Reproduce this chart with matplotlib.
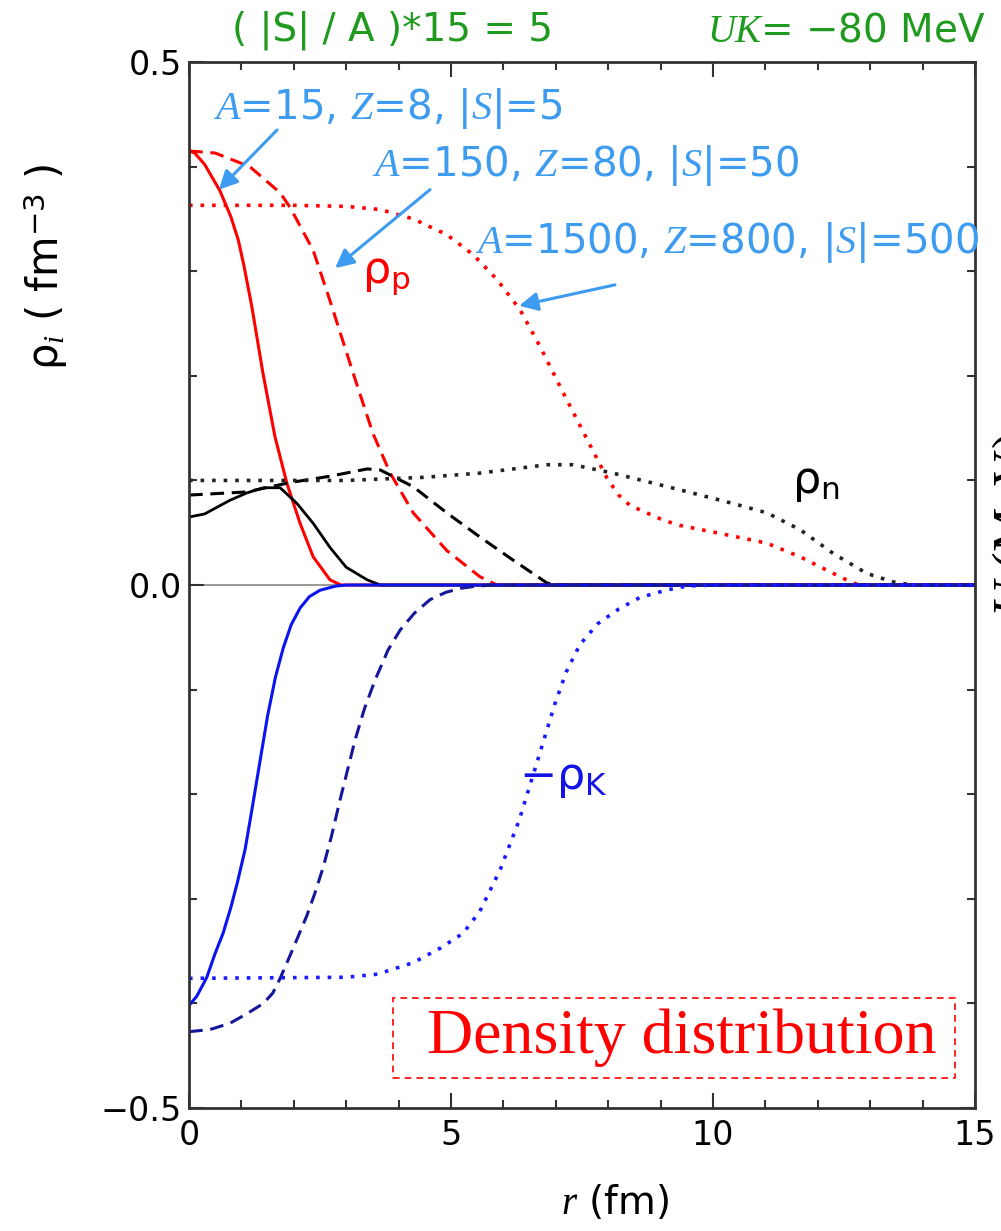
import numpy as np
import matplotlib
matplotlib.use('Agg')
import matplotlib.pyplot as plt
from matplotlib.ticker import MultipleLocator
from matplotlib.patches import Rectangle

plt.rcParams['font.family'] = ['DejaVu Sans']
plt.rcParams['mathtext.fontset'] = 'custom'
plt.rcParams['mathtext.rm'] = 'DejaVu Sans'
plt.rcParams['mathtext.it'] = 'Liberation Serif:italic'
plt.rcParams['axes.unicode_minus'] = True

# proton densities (A=15, 150, 1500)
rp15_r = [0, 0.11, 0.3, 0.59, 0.8, 0.94, 1.05, 1.2, 1.41, 1.64, 1.87, 2.12, 2.37, 2.69,
          2.9, 15]
rp15 = [0.415, 0.413, 0.402, 0.377, 0.352, 0.33, 0.305, 0.266, 0.203, 0.142, 0.097,
        0.059, 0.027, 0.005, 0, 0]
rp150_r = [0, 0.5, 1.16, 1.74, 1.93, 2.37, 2.69, 3.13, 3.51, 3.84, 4.28, 4.92, 5.55,
           5.88, 15]
rp150 = [0.415, 0.413, 0.4, 0.375, 0.361, 0.32, 0.272, 0.203, 0.145, 0.107, 0.069,
         0.033, 0.008, 0, 0]
rp1500_r = [0, 2, 3, 3.65, 4.28, 4.92, 5.42, 5.88, 6.32, 6.7, 7.14, 7.6, 7.98, 8.2,
            8.42, 9.05, 9.37, 10.07, 11.03, 11.66, 12.3, 12.67, 12.8, 15]
rp1500 = [0.363, 0.363, 0.362, 0.359, 0.35, 0.335, 0.316, 0.292, 0.263, 0.228, 0.184,
          0.139, 0.102, 0.086, 0.076, 0.062, 0.057, 0.05, 0.04, 0.027, 0.011, 0.002,
          0, 0]

# neutron densities
rn15_r = [0, 0.3, 0.78, 1.1, 1.42, 1.74, 2.06, 2.37, 2.69, 3.0, 3.4, 3.65, 15]
rn15 = [0.065, 0.068, 0.081, 0.088, 0.093, 0.093, 0.078, 0.059, 0.036, 0.017, 0.005,
        0, 0]
rn150_r = [0, 1.1, 1.93, 2.69, 3.4, 3.65, 4.28, 4.92, 5.55, 6.18, 6.83, 7.0, 15]
rn150 = [0.086, 0.089, 0.098, 0.104, 0.111, 0.11, 0.094, 0.069, 0.046, 0.024, 0.002,
         0, 0]
rn1500_r = [0, 3, 4.5, 5.55, 6.83, 7.33, 8.09, 9.37, 10.38, 11.03, 11.66, 12.3, 12.94,
            13.44, 13.8, 15]
rn1500 = [0.1, 0.1, 0.103, 0.107, 0.115, 0.115, 0.107, 0.091, 0.078, 0.069, 0.053,
          0.03, 0.011, 0.003, 0, 0]

# kaon densities (negative)
rk15_r = [0, 0.15, 0.34, 0.5, 0.65, 0.8, 0.92, 1.07, 1.2, 1.35, 1.5, 1.65, 1.8, 1.95,
          2.12, 2.3, 2.5, 2.8, 3.0, 15]
rk15 = [-0.402, -0.393, -0.375, -0.352, -0.333, -0.308, -0.285, -0.253, -0.215, -0.17,
        -0.125, -0.088, -0.06, -0.038, -0.022, -0.011, -0.005, -0.001, 0, 0]
rk150_r = [0, 0.4, 0.78, 1.1, 1.42, 1.6, 1.74, 1.93, 2.1, 2.25, 2.4, 2.56, 2.72, 2.88,
           3.03, 3.17, 3.35, 3.55, 3.8, 4.03, 4.3, 4.6, 4.9, 5.2, 5.5, 5.8, 15]
rk150 = [-0.427, -0.425, -0.419, -0.41, -0.4, -0.39, -0.376, -0.354, -0.334, -0.316,
         -0.295, -0.27, -0.24, -0.206, -0.176, -0.148, -0.118, -0.091, -0.062, -0.043,
         -0.027, -0.014, -0.007, -0.003, -0.001, 0, 0]
rk1500_r = [0, 3, 3.6, 4.28, 4.8, 5.23, 5.55, 5.94, 6.3, 6.7, 6.98, 7.2, 7.46, 7.8,
            8.2, 8.6, 9.1, 9.5, 10, 15]
rk1500 = [-0.376, -0.375, -0.372, -0.361, -0.347, -0.333, -0.312, -0.272, -0.225,
          -0.16, -0.114, -0.083, -0.057, -0.037, -0.023, -0.012, -0.005, -0.001, 0, 0]

nucl_labels = [r'$A$=15, $Z$=8, |$S$|=5',
               r'$A$=150, $Z$=80, |$S$|=50',
               r'$A$=1500, $Z$=800, |$S$|=500']

fig = plt.figure(figsize=(10.01, 12.31), dpi=100)
ax = fig.add_axes([0.1888, 0.0999, 0.7852, 0.8497])

red, black = '#ff0000', '#000000'
dash = (0, (4.5, 2.5))
dot = (0, (1, 2.2))

ax.axhline(0, color='#888888', lw=1.2, zorder=1)

ax.plot(rp15_r, rp15, color=red, lw=2.2)
ax.plot(rp150_r, rp150, color=red, lw=2.2, linestyle=dash)
ax.plot(rp1500_r, rp1500, color=red, lw=2.6, linestyle=dot)

ax.plot(rn15_r, rn15, color=black, lw=2.0)
ax.plot(rn150_r, rn150, color=black, lw=2.2, linestyle=dash)
ax.plot(rn1500_r, rn1500, color='#222222', lw=2.6, linestyle=dot)

ax.plot(rk15_r, rk15, color='#0a14f0', lw=2.2)
ax.plot(rk150_r, rk150, color='#16169c', lw=2.2, linestyle=dash)
ax.plot(rk1500_r, rk1500, color='#1a1aff', lw=2.6, linestyle=dot)

ax.set_xlim(0, 15)
ax.set_ylim(-0.5, 0.5)
ax.set_xticks([0, 5, 10, 15])
ax.set_yticks([-0.5, 0, 0.5])
ax.set_yticklabels(['\u22120.5', '0.0', '0.5'])
ax.xaxis.set_minor_locator(MultipleLocator(1))
ax.yaxis.set_minor_locator(MultipleLocator(0.1))
ax.tick_params(which='both', direction='in', top=True, right=True,
               width=1.5, color='#333333', labelsize=24)
ax.tick_params(which='major', length=11)
ax.tick_params(which='minor', length=6)
ax.tick_params(axis='x', pad=8)
ax.tick_params(axis='y', pad=5)
for s in ax.spines.values():
    s.set_linewidth(2)
    s.set_color('#333333')

ax.set_xlabel(r'$r$ (fm)', fontsize=28)
ax.xaxis.set_label_coords(0.542, -0.072)
ax.set_ylabel('\u03c1$_i$ ( fm$^{\\mathrm{-3}}$ )', fontsize=30)
ax.yaxis.set_label_coords(-0.152, 0.804)

# curve labels
ax.text(3.3, 0.296, '\u03c1$_\\mathrm{p}$', color=red, fontsize=32, va='center')
ax.text(11.5, 0.098, '\u03c1$_\\mathrm{n}$', color=black, fontsize=32, va='center')
ax.text(6.3, -0.185, '\u2212\u03c1$_\\mathrm{K}$', color='#1414e6', fontsize=32,
        va='center')

# nucleus annotations with arrows
lblue = '#3d9bf0'
ax.text(0.45, 0.456, nucl_labels[0], color=lblue, fontsize=29, va='center')
ax.text(3.5, 0.401, nucl_labels[1], color=lblue, fontsize=29, va='center')
ax.text(5.45, 0.327, nucl_labels[2], color=lblue, fontsize=29, va='center')
arrow = dict(arrowstyle='-|>', color=lblue, lw=2.2, mutation_scale=28,
             shrinkA=0, shrinkB=0)
ax.annotate('', xy=(0.57, 0.378), xytext=(1.68, 0.435), arrowprops=arrow)
ax.annotate('', xy=(2.79, 0.303), xytext=(4.6, 0.378), arrowprops=arrow)
ax.annotate('', xy=(6.3, 0.267), xytext=(8.13, 0.287), arrowprops=arrow)

# boxed caption
ax.add_patch(Rectangle((0.2595, 0.0287), 0.715, 0.0763, transform=ax.transAxes,
                       fill=False, edgecolor=red, lw=1.2, linestyle=(0, (4, 3))))
ax.text(0.627, 0.067, 'Density distribution', transform=ax.transAxes,
        family='Liberation Serif', color=red, fontsize=46, ha='center', va='center')

# header texts
green = '#1f9a1f'
fig.text(232 / 1001, 1 - 30 / 1231, '( |S| / A )*15 = 5', color=green, fontsize=28,
         va='center', ha='left')
fig.text(985 / 1001, 1 - 30 / 1231, '$UK$= \u221280 MeV', color=green, fontsize=28,
         va='center', ha='right')

# clipped label of the neighbouring panel
fig.text(0.989, 0.574, '$U$ (MeV)', family='Liberation Serif', fontsize=36,
         rotation=90, ha='left', va='center')

fig.savefig('out.png', dpi=100)
